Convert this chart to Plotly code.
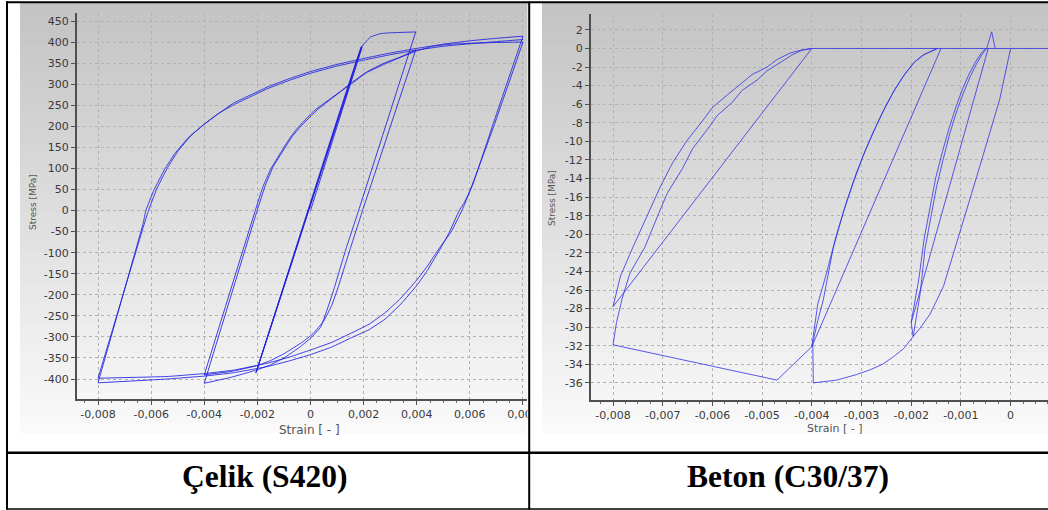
import plotly.graph_objects as go

W, H = 1048, 510

# ---------------- Çelik (S420): strain [-] vs stress [MPa] ----------------
st_a_x = [0.0, 0.00194, -0.00204, 0.00192, -0.00206]
st_a_y = [0, 388, -383, 390, -386]
st_b_x = [-0.00206, 0.00190, 0.00205, 0.00226, 0.00264, 0.00300, 0.00396]
st_b_y = [-386, 386, 399, 412, 420, 422, 424]
st_c_x = [0.00396, 0.00181, 0.00132, 0.00087, 0.0006, 0.00038, 0.0, -0.0004, -0.0010, -0.0015, -0.0020, -0.0030, -0.0040]
st_c_y = [424, 0, -94, -189, -240, -277, -303, -324, -350, -366, -378, -396, -410]
st_d_x = [-0.0040, -0.00201, -0.0017, -0.0014, -0.00101, -0.0007, -0.00038, 0.00025, 0.00088, 0.00151, 0.00214, 0.00277, 0.0034, 0.00396]
st_d_y = [-410, 0, 60, 105, 144, 175, 199, 239, 270, 302, 330, 350, 365, 381]
st_e_x = [0.00396, 0.00196, 0.0015, 0.00105, 0.0008, 0.0005, 0.0001, -0.0003, -0.0010, -0.0015, -0.0020, -0.0030, -0.0040]
st_e_y = [381, 0, -90, -180, -225, -262, -292, -312, -340, -356, -368, -382, -390]
st_f_x = [-0.0040, -0.00208, -0.0018, -0.0015, -0.0011, -0.0008, -0.0005, 0.0001, 0.0008, 0.0015, 0.0021, 0.0028, 0.0034, 0.0040, 0.0046, 0.0053, 0.0060, 0.0070, 0.0080]
st_f_y = [-390, 0, 55, 98, 140, 170, 195, 235, 268, 299, 327, 348, 364, 379, 390, 395, 397, 399, 400]
st_g_x = [0.0080, 0.0069, 0.0062, 0.0059, 0.0057, 0.0053, 0.0048, 0.0044, 0.0040, 0.0034, 0.0028, 0.0022, 0.0015, 0.0008, 0.0, -0.0008, -0.0016, -0.0029, -0.0040, -0.0054, -0.0080]
st_g_y = [400, 200, 80, 30, 0, -50, -94, -132, -165, -208, -243, -270, -292, -313, -331, -348, -362, -379, -387, -394, -398]
st_h_x = [-0.0080, -0.0063, -0.0061, -0.0058, -0.0054, -0.0050, -0.0045, -0.0040, -0.0034, -0.0029, -0.0022, -0.0016, -0.0008, 0.0, 0.001, 0.002, 0.003, 0.004, 0.005, 0.006, 0.007, 0.008]
st_h_y = [-398, -40, 0, 50, 100, 140, 178, 205, 233, 255, 276, 294, 313, 330, 347, 361, 374, 385, 395, 403, 409, 414]
st_i_x = [0.0080, 0.0069, 0.0061, 0.0058, 0.0056, 0.0052, 0.0048, 0.0044, 0.0040, 0.0034, 0.0028, 0.0022, 0.0015, 0.0008, 0.0, -0.0008, -0.0016, -0.0029, -0.0040, -0.0054, -0.0080]
st_i_y = [414, 210, 60, 20, 0, -55, -100, -142, -178, -222, -258, -283, -303, -324, -342, -357, -370, -385, -393, -400, -409]
st_j_x = [-0.0080, -0.0063, -0.0062, -0.0059, -0.0055, -0.0051, -0.0046, -0.0041, -0.0035, -0.0029, -0.0022, -0.0016, -0.0008, 0.0, 0.001, 0.002, 0.003, 0.004, 0.005, 0.006, 0.007, 0.008]
st_j_y = [-409, -30, 0, 48, 97, 136, 173, 200, 229, 251, 272, 290, 309, 326, 343, 357, 370, 381, 390, 396, 401, 406]

steel_segments = [(st_a_x, st_a_y), (st_b_x, st_b_y), (st_c_x, st_c_y), (st_d_x, st_d_y),
                  (st_e_x, st_e_y), (st_f_x, st_f_y), (st_g_x, st_g_y), (st_h_x, st_h_y),
                  (st_i_x, st_i_y), (st_j_x, st_j_y)]

# ---------------- Beton (C30/37): strain [-] vs stress [MPa] ----------------
co_env1_x = [0.0, -0.00022, -0.00062, -0.00102, -0.00118, -0.00135, -0.00162, -0.00182, -0.00196]
co_env1_y = [0, -5.5, -12.7, -19.9, -22.7, -25.6, -28.6, -30.1, -31.0]
co_unl1_x = [-0.00196, -0.0019, -0.00182, -0.00172, -0.0016, -0.00149, -0.00135, -0.00122, -0.00108, -0.00095, -0.00081, -0.00068, -0.00057, -0.00048]
co_unl1_y = [-31.0, -28.9, -26.4, -21.5, -17.9, -14.9, -11.8, -9.1, -6.7, -4.8, -3.0, -1.6, -0.6, 0]
co_ten_x = [-0.00048, -0.00038, -0.00031]
co_ten_y = [0, 1.8, 0]
co_rel1_x = [-0.00045, -0.0020, -0.00196]
co_rel1_y = [0, -29.5, -31.0]
co_unl1b_x = [-0.0020, -0.00193, -0.00184, -0.00174, -0.00162, -0.00151, -0.00137, -0.00124, -0.0011, -0.00097, -0.00083, -0.0007, -0.00059, -0.0005]
co_unl1b_y = [-29.5, -27.2, -24.6, -20.5, -17.0, -14.0, -11.1, -8.6, -6.3, -4.4, -2.7, -1.4, -0.5, 0]
co_env2_x = [-0.00196, -0.00215, -0.00236, -0.00258, -0.00283, -0.0031, -0.0035, -0.00397]
co_env2_y = [-31.0, -32.3, -33.2, -34.0, -34.6, -35.1, -35.7, -36.0]
co_unl2_x = [-0.00397, -0.00398, -0.00388, -0.00377, -0.00357, -0.00337, -0.00317, -0.00297, -0.00277, -0.00257, -0.00237, -0.00216, -0.00196, -0.00176, -0.00156, -0.0015]
co_unl2_y = [-36.0, -31.7, -29.3, -27.1, -21.5, -17.7, -14.5, -11.6, -9.1, -6.8, -4.8, -3.0, -1.6, -0.7, -0.2, 0]
co_rel2_x = [-0.0014, -0.0040]
co_rel2_y = [0, -32.1]
co_unl2b_x = [-0.0040, -0.00388, -0.00372, -0.0035, -0.0033, -0.00311, -0.00291, -0.00271, -0.00251, -0.00232, -0.00212, -0.00192, -0.00172, -0.00153, -0.00146]
co_unl2b_y = [-32.1, -27.5, -24.5, -20.0, -16.5, -13.5, -10.8, -8.4, -6.2, -4.3, -2.7, -1.4, -0.6, -0.2, 0]
co_env3_x = [-0.0040, -0.0047, -0.0080]
co_env3_y = [-32.1, -35.7, -31.9]
co_unl3_x = [-0.0080, -0.00793, -0.00782, -0.00766, -0.0075, -0.00736, -0.0071, -0.0069, -0.0066, -0.0064, -0.0061, -0.0059, -0.0056, -0.0054, -0.0051, -0.0049, -0.0046, -0.0044, -0.0042, -0.0040]
co_unl3_y = [-31.9, -29.5, -27.0, -24.2, -22.7, -21.4, -18.0, -15.5, -12.9, -10.8, -8.7, -7.2, -5.8, -4.5, -3.4, -2.4, -1.4, -0.7, -0.2, 0]
co_rel3_x = [-0.0040, -0.0080]
co_rel3_y = [0, -27.8]
co_unl3b_x = [-0.0080, -0.00792, -0.00785, -0.0076, -0.0073, -0.00705, -0.0068, -0.00651, -0.0062, -0.00599, -0.0057, -0.00544, -0.0052, -0.0049, -0.0047, -0.00444, -0.0042, -0.0040]
co_unl3b_y = [-27.8, -26.0, -24.5, -21.4, -17.8, -14.9, -12.3, -9.9, -7.8, -6.3, -5.0, -3.8, -2.8, -2.0, -1.2, -0.5, -0.15, 0]
co_zero_x = [-0.0040, 0.0008]
co_zero_y = [0, 0]

concrete_segments = [(co_env1_x, co_env1_y), (co_unl1_x, co_unl1_y), (co_ten_x, co_ten_y),
                     (co_rel1_x, co_rel1_y), (co_unl1b_x, co_unl1b_y), (co_env2_x, co_env2_y),
                     (co_unl2_x, co_unl2_y), (co_rel2_x, co_rel2_y), (co_unl2b_x, co_unl2b_y),
                     (co_env3_x, co_env3_y), (co_unl3_x, co_unl3_y), (co_rel3_x, co_rel3_y),
                     (co_unl3b_x, co_unl3b_y), (co_zero_x, co_zero_y)]

# ---------------- ticks ----------------
steel_xticks = [-0.008, -0.006, -0.004, -0.002, 0, 0.002, 0.004, 0.006, 0.008]
steel_xlabels = ["-0,008", "-0,006", "-0,004", "-0,002", "0", "0,002", "0,004", "0,006", "0,008"]
steel_yticks = [450, 400, 350, 300, 250, 200, 150, 100, 50, 0, -50, -100, -150, -200, -250, -300, -350, -400]
steel_ylabels = ["450", "400", "350", "300", "250", "200", "150", "100", "50", "0", "-50", "-100",
                 "-150", "-200", "-250", "-300", "-350", "-400"]
conc_xticks = [-0.008, -0.007, -0.006, -0.005, -0.004, -0.003, -0.002, -0.001, 0]
conc_xlabels = ["-0,008", "-0,007", "-0,006", "-0,005", "-0,004", "-0,003", "-0,002", "-0,001", "0"]
conc_yticks = [2, 0, -2, -4, -6, -8, -10, -12, -14, -16, -18, -20, -22, -24, -26, -28, -30, -32, -34, -36]
conc_ylabels = ["2", "0", "-2", "-4", "-6", "-8", "-10", "-12", "-14", "-16", "-18", "-20", "-22",
                "-24", "-26", "-28", "-30", "-32", "-34", "-36"]

captions = ["Çelik (S420)", "Beton (C30/37)"]
axis_y_title = "Stress [MPa]"
axis_x_title = "Strain [ - ]"

fig = go.Figure()
for sx, sy in steel_segments:
    fig.add_trace(go.Scatter(x=sx, y=sy, mode="lines", xaxis="x", yaxis="y",
                             line=dict(color="rgba(30,30,225,0.85)", width=1, shape="spline", smoothing=0.3),
                             showlegend=False, hoverinfo="skip"))
for cx, cy in concrete_segments:
    fig.add_trace(go.Scatter(x=cx, y=cy, mode="lines", xaxis="x2", yaxis="y2",
                             line=dict(color="rgba(50,50,230,0.8)", width=1),
                             showlegend=False, hoverinfo="skip"))


def fx(px):
    return px / W


def fy(py):
    return 1 - py / H


tickfont = dict(family="DejaVu Sans", size=11, color="#3a3a3a")
common = dict(showline=True, linecolor="#505050", linewidth=2, ticks="outside", ticklen=4,
              tickcolor="#505050", showgrid=True, gridcolor="#b2b2b2", griddash="dot",
              gridwidth=1, zeroline=False, tickfont=tickfont, tickmode="array", fixedrange=True,
              automargin=False)

fig.update_layout(
    width=W, height=H, autosize=False,
    margin=dict(l=0, r=0, t=0, b=0, pad=0),
    paper_bgcolor="white", plot_bgcolor="rgba(0,0,0,0)",
    xaxis=dict(domain=[fx(77), fx(527)], range=[-0.008792, 0.008151], anchor="y",
               tickvals=steel_xticks, ticktext=steel_xlabels,
               minor=dict(tickmode="linear", tick0=0, dtick=0.0005, ticks="outside", ticklen=2,
                          tickcolor="#707070", showgrid=False), **common),
    yaxis=dict(domain=[fy(399), fy(13)], range=[-447.4, 469], anchor="x",
               tickvals=steel_yticks, ticktext=steel_ylabels, **common),
    xaxis2=dict(domain=[fx(591), 1.0], range=[-0.008443, 0.000753], anchor="y2",
                tickvals=conc_xticks, ticktext=conc_xlabels,
                minor=dict(tickmode="linear", tick0=0, dtick=0.00025, ticks="outside", ticklen=2,
                           tickcolor="#707070", showgrid=False), **common),
    yaxis2=dict(domain=[fy(400), fy(14)], range=[-37.84, 3.71], anchor="x2",
                tickvals=conc_yticks, ticktext=conc_ylabels, **common),
)

shapes = []
# gradient backgrounds of the two screenshots
n = 43
for i in range(n):
    y0 = 3 + i * 10
    y1 = min(y0 + 10, 433)
    g = int(196 + (250 - 196) * i / (n - 1))
    col = f"rgb({g},{g},{g})"
    for (xa, xb) in [(20, 527.5), (542, 1048)]:
        shapes.append(dict(type="rect", xref="paper", yref="paper", layer="below",
                           x0=fx(xa), x1=fx(xb), y0=fy(y1), y1=fy(y0),
                           line=dict(width=0), fillcolor=col))
# cover overflow between panels
shapes.append(dict(type="rect", xref="paper", yref="paper", layer="above",
                   x0=fx(527.5), x1=fx(542), y0=fy(452), y1=fy(380),
                   line=dict(width=0), fillcolor="white"))
# table borders
black = "black"
shapes += [
    dict(type="line", xref="paper", yref="paper", layer="above", x0=fx(7), x1=fx(7), y0=fy(509.5), y1=fy(1.5), line=dict(color=black, width=2)),
    dict(type="line", xref="paper", yref="paper", layer="above", x0=fx(6), x1=1.0, y0=fy(2.2), y1=fy(2.2), line=dict(color=black, width=2)),
    dict(type="line", xref="paper", yref="paper", layer="above", x0=fx(529.2), x1=fx(529.2), y0=fy(509.5), y1=fy(1.5), line=dict(color=black, width=2)),
    dict(type="line", xref="paper", yref="paper", layer="above", x0=fx(6), x1=1.0, y0=fy(452.7), y1=fy(452.7), line=dict(color=black, width=2.5)),
    dict(type="line", xref="paper", yref="paper", layer="above", x0=fx(6), x1=1.0, y0=fy(509), y1=fy(509), line=dict(color=black, width=1.5)),
]
fig.update_layout(shapes=shapes)

ann = []
titlefont_y = dict(family="DejaVu Sans", size=9, color="#555")
titlefont_x = dict(family="DejaVu Sans", size=12, color="#555")
titlefont_x2 = dict(family="DejaVu Sans", size=11, color="#555")
ann.append(dict(text=axis_y_title, x=fx(33), y=fy(202), xref="paper", yref="paper", showarrow=False,
                textangle=-90, font=titlefont_y, xanchor="center", yanchor="middle"))
ann.append(dict(text=axis_y_title, x=fx(552), y=fy(198), xref="paper", yref="paper", showarrow=False,
                textangle=-90, font=titlefont_y, xanchor="center", yanchor="middle"))
ann.append(dict(text=axis_x_title, x=fx(309), y=fy(430), xref="paper", yref="paper", showarrow=False,
                font=titlefont_x, xanchor="center", yanchor="middle"))
ann.append(dict(text=axis_x_title, x=fx(835), y=fy(428), xref="paper", yref="paper", showarrow=False,
                font=titlefont_x2, xanchor="center", yanchor="middle"))
capfont = dict(family="Liberation Serif", size=31.5, color="black")
ann.append(dict(text="<b>" + captions[0] + "</b>", x=fx(264), y=fy(476), xref="paper", yref="paper",
                showarrow=False, font=capfont, xanchor="center", yanchor="middle"))
ann.append(dict(text="<b>" + captions[1] + "</b>", x=fx(788), y=fy(476), xref="paper", yref="paper",
                showarrow=False, font=capfont, xanchor="center", yanchor="middle"))
fig.update_layout(annotations=ann)

fig.write_html("out.html", config={"responsive": False, "displayModeBar": False})
